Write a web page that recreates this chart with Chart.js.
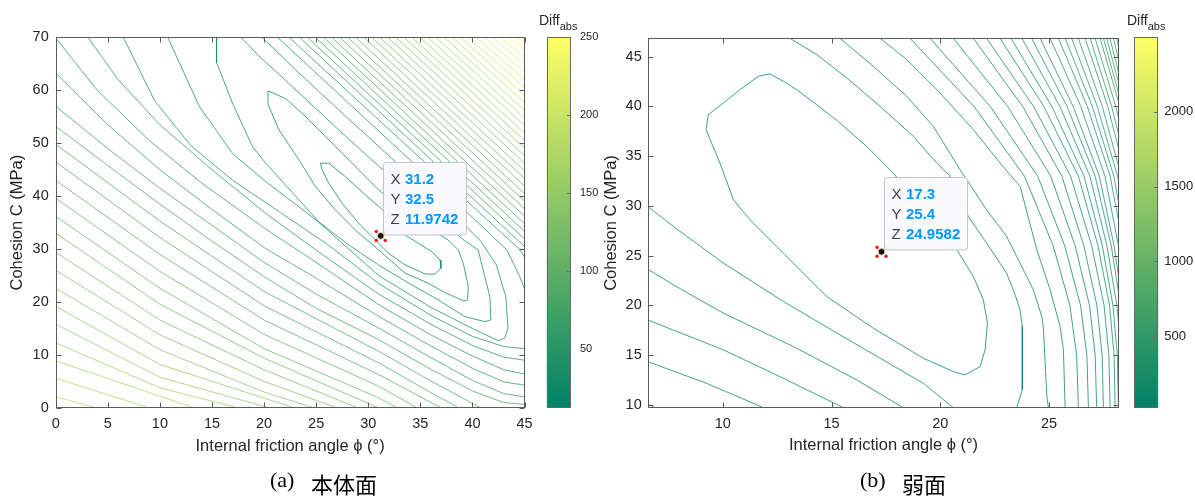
<!DOCTYPE html>
<html>
<head>
<meta charset="utf-8">
<script src="https://cdn.jsdelivr.net/npm/chart.js@4.4.1/dist/chart.umd.min.js"></script>
<style>
  html, body { margin: 0; padding: 0; background: #fff; }
  #page { position: relative; width: 1195px; height: 497px; overflow: hidden; background: #fff; }
  canvas { position: absolute; top: 0; }
  .cap { position: absolute; white-space: nowrap; color: #000; line-height: 1; }
  .lat { font-family: "Liberation Serif", "Times New Roman", serif; font-size: 22px; }
  .han { font-family: "Noto Sans CJK SC", sans-serif; font-size: 22px; }
  .cbt { position: absolute; white-space: nowrap; font-family: "Liberation Sans", Arial, sans-serif; font-size: 14px; color: #262626; line-height: 1; }
  .cbt sub { font-size: 11px; vertical-align: -5px; }
</style>
</head>
<body>
<div id="page">
  <canvas id="plotA" width="540" height="470" style="left:0px"></canvas>
  <canvas id="barA" width="80" height="470" style="left:540px"></canvas>
  <canvas id="plotB" width="545" height="470" style="left:590px"></canvas>
  <canvas id="barB" width="70" height="470" style="left:1125px"></canvas>
  <div class="cbt" style="left:539px;top:13px">Diff<sub>abs</sub></div>
  <div class="cbt" style="left:1127px;top:13px">Diff<sub>abs</sub></div>
  <div class="cap lat" style="left:270px;top:469px">(a)</div>
  <div class="cap han" style="left:311px;top:472px">本体面</div>
  <div class="cap lat" style="left:860px;top:469px">(b)</div>
  <div class="cap han" style="left:902px;top:472px">弱面</div>
</div>
<script>
// ---------- panel (a): intact rock ----------
const aPhiTicks = [0, 5, 10, 15, 20, 25, 30, 35, 40, 45];
const aCTicks = [0, 10, 20, 30, 40, 50, 60, 70];
const aBarTicks = [50, 100, 150, 200, 250];
const aZRange = [11.9742, 250];
const aTip = [31.2, 32.5, 11.9742];

// closed / folded contours around the minimum
const aValleyLevels = [18.8, 25.6, 32.4, 39.2];
const aValleyLines = [
  [[25.41,46.23],[26.21,46.23],[27.80,43.71],[29.72,40.24],[31.37,37.41],[33.54,32.68],[34.81,31.11],[36.09,29.53],[36.89,27.96],[36.98,26.38],[36.41,25.25],[35.45,25.31],[33.54,27.01],[31.95,29.21],[30.67,31.74],[29.08,34.89],[27.48,38.67],[26.21,42.45],[25.57,44.97],[25.41,46.23]],
  [[20.38,59.9],[22.1,58.4],[23.82,55.37],[26.21,50.65],[28.6,45.92],[30.99,41.19],[34.82,35.14],[37.68,31.74],[38.64,29.85],[39.12,27.33],[39.6,22.91],[39.53,20.4],[39.2,20.2],[38.64,20.68],[37.37,21.78],[35.77,23.55],[33.55,25.44],[30.99,29.85],[28.77,33.6],[26.85,37.4],[24.94,41.81],[23.35,46.86],[21.43,52.53],[20.41,57.26],[20.38,59.9]],
  [[15.44,70],[15.44,65.26],[16.97,57.58],[18.88,49.38],[20.16,46.24],[23.35,39.3],[25.26,35.14],[28.11,30.8],[30.99,27.0],[33.86,23.6],[36.73,20.4],[39.28,17.24],[41.2,16.3],[41.77,16.62],[41.67,21.02],[41.03,26.07],[40.55,29.85],[39.3,31.5],[37,35.3],[34,40.5],[31,45.7],[28,51],[25,56.5],[22,62],[19.5,66.5],[17.8,70]],
  [[10.76,70],[13.8,56.9],[17,48],[20,43],[25,35.5],[31,25],[36,19],[40,15],[42.47,12.7],[43.1,13.16],[43.42,15.05],[43.2,21],[42.3,27],[40.8,31.5],[38.5,36],[35,42.2],[31,49.4],[27,56.6],[23.5,63],[19.8,70]]
];

// lower-left side of the valley
const aLeftLevels = [46.0, 52.8, 59.6, 66.4, 73.2, 80.0, 86.8, 93.6, 100.4, 107.2, 114.0, 120.8, 127.6, 134.4, 141.2, 148.0, 154.8, 161.6, 168.4, 175.2, 182.0];
const aLeftLines = [
  [[6.5,70],[9.5,58],[13,49.5],[17,43],[21.5,37],[26,31],[31,23.5],[36,17.5],[40,13.5],[43,11.6],[45,11.2]],
  [[3.1,70],[6,62],[10,53.5],[15,45],[20,37],[25,29.8],[31,21.5],[36,15.8],[40,11.8],[43,9.6],[45,9]],
  [[0,69.9],[4,60],[9,50.5],[14,42.5],[20,34],[25,27.5],[31,19.5],[36,13.8],[40,9.8],[43,7.2],[45,6.4]],
  [[0,63.3],[5,53.5],[10,45],[15,37.5],[20,30.3],[25,24.5],[31,17.3],[36,11.7],[40,7.5],[43,4.9],[45,4.3]],
  [[0,57],[5,49],[10,41.5],[15,34.5],[20,27.5],[25,21.5],[31,15.1],[36,9.5],[40,5.2],[43,2.7],[45,2.1]],
  [[0,53.2],[5,45.8],[10,38.5],[15,31.5],[20,24.8],[25,18.8],[31,12.9],[36,7.3],[40,3.2],[43,1.0],[45,0.7]],
  [[0,49.8],[10,35.3],[20,22],[31,10.7],[36,5.1],[40.8,0]],
  [[0,46.5],[10,32.2],[20,19.3],[31,8.5],[36,2.9],[38.7,0]],
  [[0,43],[10,29],[20,16.6],[31,6.3],[37,0]],
  [[0,39.6],[10,25.8],[20,13.9],[31,4.1],[34.7,0]],
  [[0,36.2],[10,22.6],[20,11.2],[31,1.9],[32.8,0]],
  [[0,33],[10,19.6],[20,9.4],[31,0]],
  [[0,29.4],[10,16.6],[20,7.2],[29,0]],
  [[0,26],[10,13.8],[20,5],[27,0]],
  [[0,22.6],[10,11],[20,3],[24.8,0]],
  [[0,19.2],[10,8.2],[22.9,0]],
  [[0,15.8],[10,5.8],[20.5,0]],
  [[0,12.3],[10,3.8],[17.5,0]],
  [[0,8.9],[13.3,0]],
  [[0,5.6],[9.0,0]],
  [[0,2.1],[3.9,0]]
];

// upper-right side of the valley
const aRightLevels = [46.0, 52.8, 59.6, 66.4, 73.2, 80.0, 86.8, 93.6, 100.4, 107.2, 114.0, 120.8, 127.6, 134.4, 141.2, 148.0, 154.8, 161.6, 168.4, 175.2, 182.0, 188.8, 195.6, 202.4, 209.2, 216.0, 222.8, 229.6, 236.4, 243.2, 250.0];
const aRightLines = [
  [[21.3,70],[32,50.5],[40,36],[43.3,29.85],[44.5,25],[45,22.5]],
  [[22.4,70],[33,50.8],[41,36.3],[44.5,30],[45,28.5]],
  [[23.40,70],[45,30.50]], [[24.17,70],[45,31.93]], [[24.94,70],[45,33.36]], [[25.72,70],[45,34.79]],
  [[26.49,70],[45,36.22]], [[27.26,70],[45,37.65]], [[28.03,70],[45,39.08]], [[28.80,70],[45,40.51]],
  [[29.58,70],[45,41.94]], [[30.35,70],[45,43.37]], [[31.12,70],[45,44.80]], [[31.89,70],[45,46.23]],
  [[32.66,70],[45,47.66]], [[33.44,70],[45,49.09]], [[34.21,70],[45,50.52]], [[34.98,70],[45,51.95]],
  [[35.75,70],[45,53.38]], [[36.52,70],[45,54.81]], [[37.30,70],[45,56.24]], [[38.07,70],[45,57.67]],
  [[38.84,70],[45,59.10]], [[39.61,70],[45,60.53]], [[40.38,70],[45,61.96]], [[41.16,70],[45,63.39]],
  [[41.93,70],[45,64.82]], [[42.70,70],[45,66.25]], [[43.47,70],[45,67.68]], [[44.24,70],[45,69.11]],
  [[44.90,70],[45,69.90]]
];

// ---------- panel (b): weak plane ----------
const bPhiTicks = [10, 15, 20, 25];
const bCTicks = [10, 15, 20, 25, 30, 35, 40, 45];
const bBarTicks = [500, 1000, 1500, 2000];
const bZRange = [24.9582, 2495];
const bPhiRange = [6.55, 28.23];
const bCRange = [9.73, 46.85];
const bTip = [17.3, 25.4, 24.9582];

const bInnerLevels = [40];
const bInnerLines = [
  [[11.64,43.04],[12.17,43.27],[12.79,42.53],[13.40,41.69],[14.32,40.18],[15.39,38.34],[16.62,35.99],[17.84,33.31],[19.30,29.50],[20.76,25.60],[21.52,22.91],[21.98,20.57],[22.17,18.22],[22.06,15.54],[21.83,13.86],[21.14,13.02],[20.60,13.36],[19.22,14.70],[16.92,17.72],[14.78,20.90],[12.79,25.26],[11.25,28.62],[10.49,30.63],[9.87,34.32],[9.23,37.67],[9.34,39.18],[10.03,40.35],[10.79,41.69],[11.64,43.04]]
];

const bLowerLevels = [60, 80, 100, 120, 140];
const bLowerLines = [
  [[6.55,29.96],[7.73,27.94],[10.03,24.26],[12.79,20.40],[15.39,17.05],[19.22,12.18],[20.60,9.73]],
  [[6.55,23.65],[7.73,22.08],[10.03,19.23],[13.25,15.87],[16.16,12.52],[18.30,9.73]],
  [[6.55,18.55],[10.03,15.54],[12.63,12.85],[15.55,9.73]],
  [[6.55,14.36],[9.26,12.18],[11.87,9.73]],
  [[6.55,10.10],[6.89,9.73]]
];

const bRightLevels = [60, 80, 100, 120, 140, 160, 180, 200, 220, 240, 260, 280, 300, 320, 340, 360, 380, 400, 420, 440, 460, 480, 500, 520, 540, 560, 580];
const bRightLines = [
  [[13.09,46.85],[14.32,45.21],[15.70,42.87],[17.23,40.02],[18.76,37.00],[19.84,34.32],[20.45,33.00],[21.29,28.95],[22.13,26.27],[23.05,23.25],[23.45,21.00],[23.67,19.56],[23.77,17.88],[23.77,11.51],[23.51,9.73]],
  [[15.39,46.85],[16.92,44.04],[18.46,41.02],[19.68,38.00],[20.91,33.65],[22.13,29.62],[23.05,26.94],[23.36,25.59],[24.28,21.57],[24.67,18.88],[24.74,17.75],[24.90,10.84],[24.97,9.73]],
  [[17.23,46.85],[18.46,44.71],[19.99,41.36],[21.52,37.67],[22.75,34.32],[23.67,31.97],[24.44,25.59],[25.05,21.57],[25.51,17.88],[25.66,15.53],[25.74,9.73]],
  [[18.61,46.85],[21.55,40],[23.87,33],[25.19,26],[25.96,20],[26.27,15],[26.35,9.73]],
  [[19.53,46.85],[22.30,40],[24.48,33],[25.72,26],[26.45,20],[26.74,15],[26.81,9.73]],
  [[20.60,46.85],[23.10,40],[25.08,33],[26.20,26],[26.86,20],[27.12,15],[27.19,9.73]],
  [[21.52,46.85],[23.79,40],[25.59,33],[26.60,26],[27.20,20],[27.44,15],[27.50,9.73]],
  [[22.13,46.85],[24.29,40],[25.99,33],[26.96,26],[27.53,20],[27.75,15],[27.81,9.73]],
  [[22.75,46.85],[24.76,40],[26.35,33],[27.25,26],[27.78,20],[27.99,15],[28.04,9.73]],
  [[23.25,46.85],[25.13,40],[26.61,33],[27.45,26],[27.94,20],[28.14,15],[28.19,9.73]],
  [[23.75,46.85],[25.50,40],[26.88,33],[27.66,26],[28.12,20],[28.23,17.3]],
  [[24.20,46.85],[25.83,40],[27.12,33],[27.86,26],[28.23,20.8]],
  [[24.59,46.85],[26.11,40],[27.31,33],[27.99,26],[28.23,22.4]],
  [[25.05,46.85],[26.46,40],[27.57,33],[28.23,25.6]],
  [[25.43,46.85],[26.76,40],[27.81,33],[28.23,28.1]],
  [[25.74,46.85],[26.99,40],[27.98,33],[28.23,29.9]],
  [[26.04,46.85],[27.22,40],[28.15,33],[28.23,32.0]],
  [[26.35,46.85],[27.45,40],[28.23,33.7]],
  [[26.66,46.85],[27.70,40],[28.23,35.5]],
  [[26.89,46.85],[27.88,40],[28.23,36.9]],
  [[27.12,46.85],[28.07,40],[28.23,38.5]],
  [[27.35,46.85],[28.23,40.2]],
  [[27.50,46.85],[28.23,41.1]],
  [[27.65,46.85],[28.23,42.1]],
  [[27.80,46.85],[28.23,43.15]],
  [[27.96,46.85],[28.23,44.4]],
  [[28.11,46.85],[28.23,45.7]]
];

// ---------- drawing ----------
const FONT = "'Liberation Sans', Arial, Helvetica, sans-serif";
Chart.defaults.font.family = FONT;
Chart.defaults.color = '#262626';

// MATLAB "summer" colormap
function summer(t, alpha) {
  t = Math.max(0, Math.min(1, t));
  return 'rgba(' + Math.round(255 * t) + ',' + Math.round(127.5 + 127.5 * t) + ',102,' + (alpha === undefined ? 1 : alpha) + ')';
}

function contourSets(lines, levels, range) {
  return lines.map((pts, i) => ({
    data: pts.map(p => ({ x: p[0], y: p[1] })),
    showLine: true,
    pointRadius: 0,
    pointHoverRadius: 0,
    borderColor: summer((levels[i] - range[0]) / (range[1] - range[0]), 0.85),
    borderWidth: 0.9,
    tension: 0,
    fill: false
  }));
}

// box with inward tick marks on all four sides
const axesFrame = {
  id: 'axesFrame',
  afterDatasetsDraw(chart) {
    const { ctx, chartArea: a, scales: { x, y } } = chart;
    const L = Math.round(a.left) + 0.5, R = Math.round(a.right) - 0.5;
    const T = Math.round(a.top) + 0.5, B = Math.round(a.bottom) - 0.5;
    const tl = 5;
    ctx.save();
    ctx.strokeStyle = '#5a5a5a';
    ctx.lineWidth = 1;
    ctx.beginPath();
    x.ticks.forEach(t => {
      const p = Math.round(x.getPixelForValue(t.value)) + 0.5;
      ctx.moveTo(p, B); ctx.lineTo(p, B - tl);
      ctx.moveTo(p, T); ctx.lineTo(p, T + tl);
    });
    y.ticks.forEach(t => {
      const p = Math.round(y.getPixelForValue(t.value)) + 0.5;
      ctx.moveTo(L, p); ctx.lineTo(L + tl, p);
      ctx.moveTo(R, p); ctx.lineTo(R - tl, p);
    });
    ctx.stroke();
    ctx.strokeRect(L, T, R - L, B - T);
    ctx.restore();
  }
};

// data tip: marker decoration and label box
const dataTip = {
  id: 'dataTip',
  afterDraw(chart, args, opts) {
    const { ctx, scales: { x, y } } = chart;
    const tip = opts.tip;
    const px = x.getPixelForValue(tip[0]);
    const py = y.getPixelForValue(tip[1]);
    ctx.save();
    ctx.fillStyle = '#ff1010';
    [[-4.5, -4.5], [4.5, -4.5], [-4.5, 4.5], [4.5, 4.5]].forEach(d => {
      ctx.beginPath(); ctx.arc(px + d[0], py + d[1], 1.7, 0, Math.PI * 2); ctx.fill();
    });
    ctx.beginPath(); ctx.arc(px, py, 3.4, 0, Math.PI * 2);
    ctx.fillStyle = '#141414'; ctx.fill();
    ctx.lineWidth = 1; ctx.strokeStyle = '#e9dcae'; ctx.stroke();
    const bw = 83, bh = 72.5;
    const bx = Math.round(px + 2.2) + 0.5, by = Math.round(py - 1.8 - bh) + 0.5;
    ctx.beginPath();
    ctx.roundRect(bx, by, bw, bh, 3);
    ctx.fillStyle = 'rgba(250,250,254,0.97)'; ctx.fill();
    ctx.strokeStyle = '#c4c4c8'; ctx.lineWidth = 1; ctx.stroke();
    const labels = ['X', 'Y', 'Z'];
    const vals = [String(tip[0]), String(tip[1]), String(tip[2])];
    ctx.textBaseline = 'middle';
    for (let i = 0; i < 3; i++) {
      const ty = by + 17.5 + i * 20;
      ctx.font = '15px ' + FONT;
      ctx.fillStyle = '#404040';
      ctx.fillText(labels[i], bx + 7, ty);
      ctx.font = 'bold 15px ' + FONT;
      ctx.fillStyle = '#0099ff';
      ctx.fillText(vals[i], bx + 21.5, ty);
    }
    ctx.restore();
  }
};

function plotChart(id, cfg) {
  return new Chart(document.getElementById(id), {
    type: 'scatter',
    data: {
      datasets: [
        { data: [{ x: cfg.tip[0], y: cfg.tip[1] }], pointRadius: 0, showLine: false }
      ].concat(cfg.sets)
    },
    options: {
      responsive: false, animation: false, devicePixelRatio: 1, events: [],
      layout: { padding: cfg.pad },
      plugins: { legend: { display: false }, tooltip: { enabled: false }, dataTip: { tip: cfg.tip } },
      scales: {
        x: {
          type: 'linear', min: cfg.xr[0], max: cfg.xr[1],
          grid: { display: false, drawTicks: false }, border: { display: false },
          ticks: { padding: 7.4, font: { size: 14.5 }, color: '#262626', callback: v => String(v) },
          afterBuildTicks: s => { s.ticks = cfg.xt.map(v => ({ value: v })); },
          afterFit: s => { s.height = cfg.xh; },
          title: { display: true, text: 'Internal friction angle ϕ (°)', font: { size: 16.5 }, color: '#262626', padding: 0 }
        },
        y: {
          type: 'linear', min: cfg.yr[0], max: cfg.yr[1],
          grid: { display: false, drawTicks: false }, border: { display: false },
          ticks: { padding: cfg.ylp, font: { size: 14.5 }, color: '#262626', callback: v => String(v) },
          afterBuildTicks: s => { s.ticks = cfg.yt.map(v => ({ value: v })); },
          afterFit: s => { s.width = cfg.yw; },
          title: { display: true, text: 'Cohesion C (MPa)', font: { size: 16.5 }, color: '#262626', padding: { top: cfg.ytp, bottom: 0 } }
        }
      }
    },
    plugins: [axesFrame, dataTip]
  });
}

const barFrame = {
  id: 'barFrame',
  afterDatasetsDraw(chart) {
    const { ctx, chartArea: a, scales: { y } } = chart;
    const L = Math.round(a.left) + 0.5, R = Math.round(a.right) - 0.5;
    const T = Math.round(a.top) + 0.5, B = Math.round(a.bottom) - 0.5;
    ctx.save();
    ctx.strokeStyle = '#6a6a6a'; ctx.lineWidth = 1;
    ctx.beginPath();
    y.ticks.forEach(t => {
      const p = Math.round(y.getPixelForValue(t.value)) + 0.5;
      ctx.moveTo(R, p); ctx.lineTo(R - 3.5, p);
    });
    ctx.stroke();
    ctx.strokeRect(L, T, R - L, B - T);
    ctx.restore();
  }
};

function barChart(id, cfg) {
  return new Chart(document.getElementById(id), {
    type: 'bar',
    data: {
      labels: [''],
      datasets: [{
        data: [[cfg.range[0], cfg.range[1]]],
        borderWidth: 0, barPercentage: 1, categoryPercentage: 1,
        backgroundColor: c => {
          const ch = c.chart, a = ch.chartArea;
          if (!a) return '#888';
          const g = ch.ctx.createLinearGradient(0, a.bottom, 0, a.top);
          g.addColorStop(0, summer(0)); g.addColorStop(0.5, summer(0.5)); g.addColorStop(1, summer(1));
          return g;
        }
      }]
    },
    options: {
      responsive: false, animation: false, devicePixelRatio: 1, events: [],
      layout: { padding: cfg.pad },
      plugins: { legend: { display: false }, tooltip: { enabled: false } },
      scales: {
        x: { display: false },
        y: {
          position: 'right', min: cfg.range[0], max: cfg.range[1],
          grid: { display: false, drawTicks: false }, border: { display: false },
          ticks: { padding: cfg.lp, font: { size: cfg.fs }, color: '#262626', callback: v => String(v) },
          afterBuildTicks: s => { s.ticks = cfg.ticks.map(v => ({ value: v })); },
          afterFit: s => { s.width = cfg.w; }
        }
      }
    },
    plugins: [barFrame]
  });
}

plotChart('plotA', {
  tip: aTip, xr: [0, 45], yr: [0, 70], xt: aPhiTicks, yt: aCTicks,
  pad: { left: 0, right: 13.5, top: 37.4, bottom: 14.1 }, xh: 48, yw: 55.7, ylp: 7, ytp: 7.6,
  sets: contourSets(aValleyLines, aValleyLevels, aZRange)
    .concat(contourSets(aLeftLines, aLeftLevels, aZRange))
    .concat(contourSets(aRightLines, aRightLevels, aZRange))
});

plotChart('plotB', {
  tip: bTip, xr: bPhiRange, yr: bCRange, xt: bPhiTicks, yt: bCTicks,
  pad: { left: 0, right: 15.7, top: 38.3, bottom: 14.2 }, xh: 48.1, yw: 57.7, ylp: 6, ytp: 11.1,
  sets: contourSets(bInnerLines, bInnerLevels, bZRange)
    .concat(contourSets(bLowerLines, bLowerLevels, bZRange))
    .concat(contourSets(bRightLines, bRightLevels, bZRange))
});

barChart('barA', { range: aZRange, ticks: aBarTicks, pad: { left: 6.7, right: 0, top: 37.3, bottom: 62.3 }, w: 49, lp: 9, fs: 11 });
barChart('barB', { range: bZRange, ticks: bBarTicks, pad: { left: 9.3, right: 0, top: 37.3, bottom: 62.3 }, w: 36.7, lp: 6, fs: 13 });
</script>
</body>
</html>
